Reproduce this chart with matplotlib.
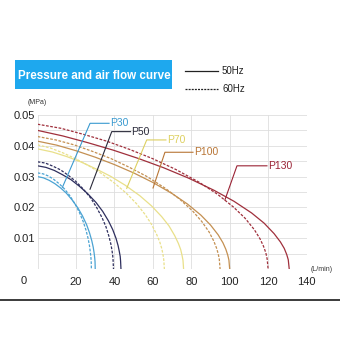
import matplotlib
matplotlib.use("Agg")
import matplotlib.pyplot as plt
from matplotlib.patches import Rectangle
from matplotlib.lines import Line2D

# ---- data (flow L/min, pressure MPa) ----
p30_50_x = [0, 3, 6, 9, 12, 15, 18, 21, 23.4, 25.5, 27, 28.2, 28.95, 29.4, 29.7, 29.9, 30]
p30_50_y = [0.0300, 0.0296, 0.0288, 0.0277, 0.0263, 0.0246, 0.0224, 0.0198, 0.0172, 0.0144,
            0.0118, 0.0092, 0.0071, 0.0053, 0.0038, 0.0024, 0]
p30_60_x = [0, 2.8, 5.6, 8.4, 11.2, 14, 16.8, 19.6, 21.8, 23.8, 25.2, 26.3, 27, 27.4, 27.7, 27.9, 28]
p30_60_y = [0.0312, 0.0309, 0.0302, 0.0291, 0.0277, 0.0260, 0.0238, 0.0210, 0.0183, 0.0153,
            0.0126, 0.0099, 0.0076, 0.0057, 0.0041, 0.0026, 0]

p50_50_x = [0, 4.3, 8.7, 13, 17.4, 21.7, 26, 30.4, 33.9, 36.9, 39.1, 40.8, 41.9, 42.5, 43, 43.2, 43.4]
p50_50_y = [0.0335, 0.0330, 0.0320, 0.0306, 0.0290, 0.0269, 0.0245, 0.0216, 0.0187, 0.0156,
            0.0128, 0.0100, 0.0076, 0.0058, 0.0041, 0.0026, 0]
p50_60_x = [0, 4, 7.9, 11.9, 15.8, 19.8, 23.7, 27.7, 30.8, 33.6, 35.6, 37.1, 38.1, 38.7, 39.1, 39.3, 39.5]
p50_60_y = [0.0348, 0.0344, 0.0334, 0.0322, 0.0305, 0.0285, 0.0260, 0.0230, 0.0199, 0.0166,
            0.0137, 0.0107, 0.0082, 0.0062, 0.0044, 0.0028, 0]

p70_50_x = [0, 7.6, 15.2, 22.8, 30.4, 38, 45.6, 53.2, 59.3, 64.6, 68.4, 71.4, 73.3, 74.5, 75.2, 75.7, 76]
p70_50_y = [0.0390, 0.0380, 0.0365, 0.0347, 0.0325, 0.0301, 0.0272, 0.0238, 0.0205, 0.0170,
            0.0140, 0.0108, 0.0083, 0.0063, 0.0044, 0.0028, 0]
p70_60_x = [0, 6.6, 13.2, 19.8, 26.4, 33, 39.6, 46.2, 51.5, 56.1, 59.4, 62, 63.7, 64.7, 65.3, 65.7, 66]
p70_60_y = [0.0403, 0.0393, 0.0377, 0.0358, 0.0336, 0.0311, 0.0281, 0.0246, 0.0212, 0.0176,
            0.0144, 0.0112, 0.0086, 0.0065, 0.0046, 0.0029, 0]

p100_50_x = [0, 10, 20, 30, 40, 50, 60, 70, 78, 85, 90, 94, 96.5, 98, 99, 99.6, 100]
p100_50_y = [0.0415, 0.0402, 0.0384, 0.0363, 0.0339, 0.0312, 0.0281, 0.0245, 0.0211, 0.0175,
             0.0143, 0.0111, 0.0085, 0.0064, 0.0045, 0.0029, 0]
p100_60_x = [0, 9.5, 19, 28.5, 38, 47.5, 57, 66.5, 74.1, 80.75, 85.5, 89.3, 91.7, 93.1, 94.05, 94.6, 95]
p100_60_y = [0.0430, 0.0419, 0.0403, 0.0382, 0.0359, 0.0331, 0.0300, 0.0262, 0.0226, 0.0188,
             0.0154, 0.0120, 0.0091, 0.0069, 0.0049, 0.0031, 0]

p130_50_x = [0, 13.1, 26.2, 39.3, 52.4, 65.5, 78.6, 91.7, 102.2, 111.4, 117.9, 123.1, 126.4,
             128.4, 129.7, 130.5, 131]
p130_50_y = [0.0450, 0.0432, 0.0410, 0.0386, 0.0359, 0.0329, 0.0295, 0.0256, 0.0220, 0.0182,
             0.0149, 0.0115, 0.0088, 0.0067, 0.0047, 0.0030, 0]
p130_60_x = [0, 12, 24, 36, 48, 60, 72, 84, 93.6, 102, 108, 112.8, 115.8, 117.6, 118.8, 119.5, 120]
p130_60_y = [0.0470, 0.0457, 0.0437, 0.0415, 0.0388, 0.0358, 0.0323, 0.0282, 0.0243, 0.0201,
             0.0165, 0.0128, 0.0098, 0.0074, 0.0053, 0.0033, 0]

pump_names = ["P30", "P50", "P70", "P100", "P130"]
x_ticks = [20, 40, 60, 80, 100, 120, 140]
y_ticks = [0.01, 0.02, 0.03, 0.04, 0.05]
y_tick_labels = ["0.01", "0.02", "0.03", "0.04", "0.05"]

curve_colors = ["#4ba3d3", "#2e2f5e", "#e9e08a", "#c49052", "#a0303c"]
label_colors = ["#3a9ad0", "#2a2a3a", "#ddd060", "#b87535", "#9b2335"]

FONT = "Liberation Sans"
plt.rcParams["font.family"] = [FONT, "DejaVu Sans"]

fig = plt.figure(figsize=(3.4, 3.4), dpi=100)
fig.patch.set_facecolor("white")
ax = fig.add_axes([0.1106, 0.2088, 0.7909, 0.453])

ax.set_xlim(0, 140)
ax.set_ylim(0, 0.05)
ax.set_xticks([0] + x_ticks)
ax.set_xticklabels([""] + [str(v) for v in x_ticks])
ax.set_yticks([0] + y_ticks)
ax.set_yticklabels([""] + y_tick_labels)
ax.set_yticks([0.005, 0.015, 0.025, 0.035, 0.045], minor=True)
ax.tick_params(axis="both", which="both", length=0, labelsize=8, colors="#222222")
ax.tick_params(axis="y", pad=2)
ax.tick_params(axis="x", pad=5.5)
ax.grid(True, which="both", color="#dedede", linewidth=0.6)
ax.set_axisbelow(True)
for s in ax.spines.values():
    s.set_visible(False)

dash = (2.2, 1.2)
series = [
    (p30_50_x, p30_50_y, p30_60_x, p30_60_y),
    (p50_50_x, p50_50_y, p50_60_x, p50_60_y),
    (p70_50_x, p70_50_y, p70_60_x, p70_60_y),
    (p100_50_x, p100_50_y, p100_60_x, p100_60_y),
    (p130_50_x, p130_50_y, p130_60_x, p130_60_y),
]
for (x5, y5, x6, y6), c in zip(series, curve_colors):
    ax.plot(x5, y5, color=c, lw=0.9, solid_joinstyle="round")
    ax.plot(x6, y6, color=c, lw=0.9, dashes=dash)

# leader labels
leaders = [
    ([12.9, 27.3, 37.2], [0.0265, 0.0473, 0.0473]),
    ([27.3, 38.6, 48.4], [0.0259, 0.0446, 0.0446]),
    ([46.4, 56.8, 66.8], [0.0262, 0.0419, 0.0419]),
    ([60.1, 66.3, 80.9], [0.0263, 0.0379, 0.0379]),
    ([97.5, 103.8, 119.4], [0.0224, 0.0335, 0.0335]),
]
for name, (lx, ly), lc in zip(pump_names, leaders, label_colors):
    ax.plot(lx, ly, color=lc, lw=0.8, clip_on=False)
    ax.text(lx[-1] + 0.4, ly[-1], name, color=lc, fontsize=7.5, va="center", ha="left")

ax.text(-7, -0.0038, "0", fontsize=8, color="#222222", ha="center", va="center", clip_on=False)

# title box
fig.patches.append(Rectangle((0.0441, 0.7382), 0.4618, 0.0853, transform=fig.transFigure,
                             facecolor="#1ea8ee", edgecolor="none"))
fig.text(0.2765, 0.7774, "Pressure and air flow curve", color="white", fontsize=8.4,
         fontweight="bold", ha="center", va="center")

# legend
fig.lines.append(Line2D([0.544, 0.641], [0.792, 0.792], transform=fig.transFigure,
                        color="#222222", lw=0.9))
fig.lines.append(Line2D([0.544, 0.641], [0.7374, 0.7374], transform=fig.transFigure,
                        color="#222222", lw=0.9, dashes=(1.6, 0.9)))
fig.text(0.653, 0.792, "50Hz", fontsize=7, color="#222222", va="center", ha="left")
fig.text(0.653, 0.7374, "60Hz", fontsize=7, color="#222222", va="center", ha="left")

# unit labels
fig.text(0.109, 0.70, "(MPa)", fontsize=5, color="#333333", ha="center", va="center")
fig.text(0.947, 0.206, "(L/min)", fontsize=5, color="#333333", ha="center", va="center")

# bottom rule
fig.lines.append(Line2D([0, 1], [0.1176, 0.1176], transform=fig.transFigure,
                        color="#1a1a1a", lw=1.2))

fig.savefig("out.png", dpi=100, facecolor="white")
